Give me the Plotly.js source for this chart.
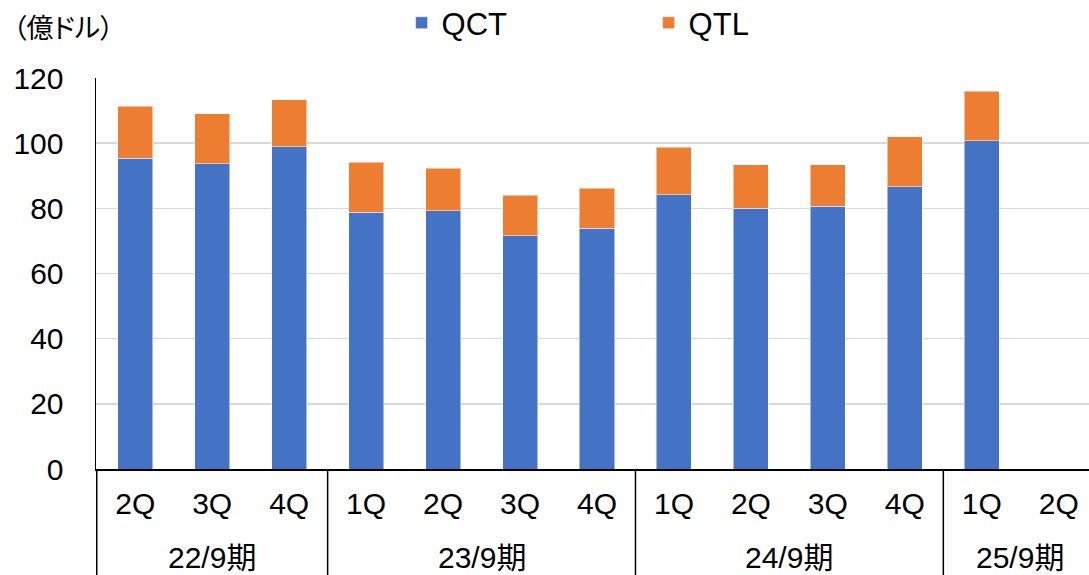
<!DOCTYPE html>
<html>
<head>
<meta charset="utf-8">
<script src="https://cdn.plot.ly/plotly-3.0.1.min.js"></script>
<style>
html, body { margin: 0; padding: 0; overflow: hidden; background: #fff; }
#chart { width: 1100px; height: 600px; }
.annotation-text { font-feature-settings: "palt"; }
</style>
</head>
<body>
<div id="chart"></div>
<script>
const periods  = ['22/9期','22/9期','22/9期','23/9期','23/9期','23/9期','23/9期','24/9期','24/9期','24/9期','24/9期','25/9期','25/9期'];
const quarters = ['2Q','3Q','4Q','1Q','2Q','3Q','4Q','1Q','2Q','3Q','4Q','1Q','2Q'];
const qct = [95.4, 93.7, 98.9, 78.8, 79.3, 71.6, 73.9, 84.1, 80.1, 80.6, 86.6, 100.7, null];
const qtl = [15.9, 15.3, 14.5, 15.3, 13.0, 12.4, 12.3, 14.6, 13.3, 12.8, 15.3, 15.3, null];
const unitLabel = '（億ドル）';

const FONT = 'Liberation Sans, Arial, Noto Sans CJK JP, sans-serif';
const TICK_SIZE = 30;

// unique category keys built from the period / quarter arrays
const cats = periods.map((p, i) => p + ' ' + quarters[i]);

// group spans (start index, end index) derived from the periods array
const groups = [];
periods.forEach((p, i) => {
  const g = groups[groups.length - 1];
  if (g && g.name === p) g.end = i; else groups.push({ name: p, start: i, end: i });
});

const PLOT_H = 391.5;
const pxBelow = px => -px / PLOT_H;   // paper y for pixels below the x axis

const shapes = [];
groups.forEach(g => {
  shapes.push({ type: 'line', xref: 'x', yref: 'paper', x0: g.start - 0.5, x1: g.start - 0.5,
                y0: 0, y1: pxBelow(140), line: { color: '#000', width: 1.5 } });
});
shapes.push({ type: 'line', xref: 'x', yref: 'paper', x0: cats.length - 0.5, x1: cats.length - 0.5,
              y0: 0, y1: pxBelow(140), line: { color: '#000', width: 1.5 } });

const annotations = groups.map(g => ({
  text: g.name, xref: 'x', yref: 'paper',
  x: (g.start + g.end) / 2, y: pxBelow(89), xanchor: 'center', yanchor: 'middle',
  showarrow: false, font: { family: FONT, size: TICK_SIZE, color: '#000' }
}));
annotations.push({
  text: unitLabel, xref: 'paper', yref: 'paper',
  x: -0.085, xanchor: 'left', y: 1 + 52 / PLOT_H, yanchor: 'middle',
  showarrow: false,
  font: { family: 'Noto Sans CJK JP, sans-serif', size: 27, color: '#000' }
});

const traces = [
  { type: 'bar', name: 'QCT', x: cats, y: qct,
    marker: { color: '#4472C4', line: { color: 'rgba(255,255,255,0.5)', width: 1 } } },
  { type: 'bar', name: 'QTL', x: cats, y: qtl,
    marker: { color: '#ED7D31', line: { color: 'rgba(255,255,255,0.5)', width: 1 } } }
];

const layout = {
  width: 1100, height: 600,
  margin: { l: 96, r: 2, t: 78, b: 130.5, autoexpand: false },
  paper_bgcolor: '#fff', plot_bgcolor: '#fff',
  barmode: 'stack', bargap: 0.545,
  font: { family: FONT, size: TICK_SIZE, color: '#000' },
  showlegend: true,
  legend: {
    orientation: 'h', traceorder: 'normal',
    x: 0.305, xanchor: 'left', y: 1 + 55 / PLOT_H, yanchor: 'middle',
    entrywidth: 202, entrywidthmode: 'pixels',
    font: { family: FONT, size: 31, color: '#000' },
    bgcolor: 'rgba(0,0,0,0)'
  },
  xaxis: {
    type: 'category', categoryorder: 'array', categoryarray: cats,
    tickmode: 'array', tickvals: cats, ticktext: quarters,
    showline: true, linecolor: '#000', linewidth: 1.5,
    ticks: '', ticklabelstandoff: 7,
    tickfont: { family: FONT, size: TICK_SIZE, color: '#000' },
    showgrid: false, zeroline: false
  },
  yaxis: {
    range: [0, 120], dtick: 20, tick0: 0,
    showline: true, linecolor: '#000', linewidth: 1.5,
    showgrid: true, gridcolor: '#d9d9d9', gridwidth: 1.5,
    zeroline: false, ticks: '', ticklabelstandoff: 25,
    tickfont: { family: FONT, size: TICK_SIZE, color: '#000' }
  },
  shapes: shapes,
  annotations: annotations
};

Plotly.newPlot('chart', traces, layout, { displayModeBar: false, staticPlot: true });
</script>
</body>
</html>
